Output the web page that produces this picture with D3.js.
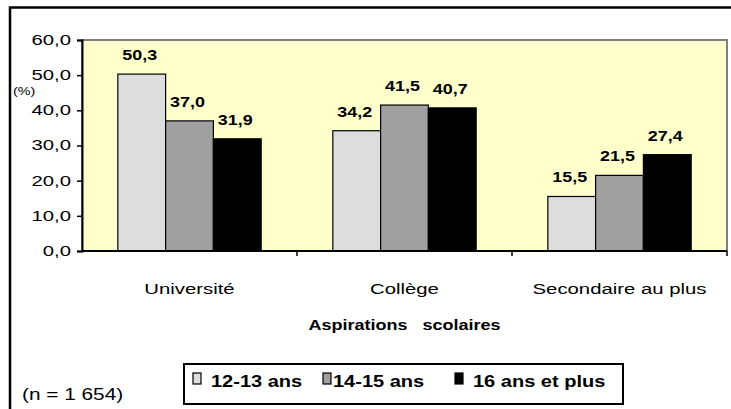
<!DOCTYPE html>
<html lang="fr">
<head>
    <meta charset="UTF-8">
    <title>Aspirations scolaires</title>
    <script src="https://d3js.org/d3.v7.min.js"></script>
    <style>
        body { margin: 0; background: #fff; }
        svg text { font-family: "Liberation Sans", Arial, sans-serif; fill: #000; }
        .value-label { font-size: 14px; font-weight: bold; }
        .tick text { font-size: 14px; }
        .cat-label { font-size: 14px; }
    </style>
</head>
<body>
<div id="chart-container"></div>
<script>
// data
const categories = ['Université', 'Collège', 'Secondaire au plus'];
const series = ['12-13 ans', '14-15 ans', '16 ans et plus'];
const values = {
    '12-13 ans': [50.3, 34.2, 15.5],
    '14-15 ans': [37.0, 41.5, 21.5],
    '16 ans et plus': [31.9, 40.7, 27.4]
};
const yTicks = [0, 10, 20, 30, 40, 50, 60];
const colors = ['#dddddd', '#a0a0a0', '#000000'];

const W = 731, H = 409;
const plot = { left: 82, right: 727, top: 40, bottom: 251 };

// the reference looks horizontally stretched, so widen glyphs
function stretch(sel, sx) {
    sel.each(function () {
        const w = this.getComputedTextLength();
        d3.select(this)
            .attr('textLength', w * sx)
            .attr('lengthAdjust', 'spacingAndGlyphs');
    });
}

const fmt = v => d3.format('.1f')(v).replace('.', ',');

const svg = d3.select('#chart-container')
    .append('svg')
    .attr('width', W)
    .attr('height', H);

// outer frame (runs off the right and bottom of the picture)
svg.append('rect')
    .attr('x', 10).attr('y', 7.5)
    .attr('width', 740).attr('height', 420)
    .attr('fill', 'none')
    .attr('stroke', '#000')
    .attr('stroke-width', 2.5);

// scales
const x0 = d3.scaleBand()
    .domain(categories)
    .range([plot.left, plot.right])
    .paddingInner(0).paddingOuter(0);

const x1 = d3.scaleBand()
    .domain(series)
    .range([0, x0.bandwidth()])
    .paddingInner(0).paddingOuter(0.75);

const y = d3.scaleLinear()
    .domain([0, 60])
    .range([plot.bottom, plot.top]);

// plot background
svg.append('rect')
    .attr('x', plot.left).attr('y', plot.top)
    .attr('width', plot.right - plot.left)
    .attr('height', plot.bottom - plot.top)
    .attr('fill', '#ffffcc')
    .attr('stroke', '#808080')
    .attr('stroke-width', 2);

// bars
const rows = [];
categories.forEach((c, i) => {
    series.forEach((s, j) => rows.push({ cat: c, ser: s, v: values[s][i], k: j }));
});

svg.append('g')
    .selectAll('rect')
    .data(rows)
    .enter()
    .append('rect')
    .attr('x', d => x0(d.cat) + x1(d.ser))
    .attr('y', d => y(d.v))
    .attr('width', x1.bandwidth())
    .attr('height', d => y(0) - y(d.v))
    .attr('fill', d => colors[d.k])
    .attr('stroke', '#000')
    .attr('stroke-width', 1.2);

// value labels
svg.append('g')
    .selectAll('text')
    .data(rows)
    .enter()
    .append('text')
    .attr('class', 'value-label')
    .attr('x', d => x0(d.cat) + x1(d.ser) + x1.bandwidth() / 2 - 2)
    .attr('y', d => y(d.v) - 14)
    .attr('text-anchor', 'middle')
    .text(d => fmt(d.v))
    .call(stretch, 1.28);

// y axis
const yAxis = svg.append('g')
    .attr('transform', `translate(${plot.left},0)`)
    .call(d3.axisLeft(y).tickValues(yTicks).tickFormat(fmt).tickSize(5).tickPadding(6));
yAxis.select('.domain').attr('stroke-width', 2);
yAxis.selectAll('.tick line').attr('stroke-width', 1.5);
yAxis.selectAll('.tick text').attr('font-size', null).call(stretch, 1.45);

// x axis: tick marks at category boundaries
const xAxis = svg.append('g');
xAxis.append('line')
    .attr('x1', plot.left).attr('x2', plot.right)
    .attr('y1', y(0)).attr('y2', y(0))
    .attr('stroke', '#000').attr('stroke-width', 2);
xAxis.selectAll('.bound')
    .data(categories)
    .enter()
    .append('line')
    .attr('x1', d => x0(d) + x0.bandwidth())
    .attr('x2', d => x0(d) + x0.bandwidth())
    .attr('y1', y(0)).attr('y2', y(0) + 5)
    .attr('stroke', '#000').attr('stroke-width', 1.5);
xAxis.selectAll('.cat-label')
    .data(categories)
    .enter()
    .append('text')
    .attr('class', 'cat-label')
    .attr('x', d => x0(d) + x0.bandwidth() / 2)
    .attr('y', 294)
    .attr('text-anchor', 'middle')
    .text(d => d)
    .call(stretch, 1.45);

// unit label
svg.append('text')
    .attr('x', 13).attr('y', 95)
    .attr('font-size', 11)
    .text('(%)')
    .call(stretch, 1.3);

// axis title
svg.append('text')
    .attr('x', (plot.left + plot.right) / 2)
    .attr('y', 330)
    .attr('text-anchor', 'middle')
    .attr('font-size', 15)
    .attr('font-weight', 'bold')
    .style('white-space', 'pre')
    .text('Aspirations   scolaires')
    .call(stretch, 1.2);

// sample size
svg.append('text')
    .attr('x', 22).attr('y', 400)
    .attr('font-size', 16)
    .text('(n = 1 654)')
    .call(stretch, 1.3);

// legend
const legend = svg.append('g');
legend.append('rect')
    .attr('x', 184).attr('y', 364)
    .attr('width', 439).attr('height', 40)
    .attr('fill', '#fff')
    .attr('stroke', '#000')
    .attr('stroke-width', 2);

const legendX = [193, 323, 455];
const item = legend.selectAll('.item')
    .data(series)
    .enter()
    .append('g')
    .attr('transform', (d, i) => `translate(${legendX[i]},373)`);
item.append('rect')
    .attr('width', 8).attr('height', 11)
    .attr('fill', (d, i) => colors[i])
    .attr('stroke', '#000')
    .attr('stroke-width', 1.2);
item.append('text')
    .attr('x', (d, i) => i === 1 ? 10 : 18)
    .attr('y', 14)
    .attr('font-size', 16)
    .attr('font-weight', 'bold')
    .text(d => d)
    .call(stretch, 1.25);
</script>
</body>
</html>
